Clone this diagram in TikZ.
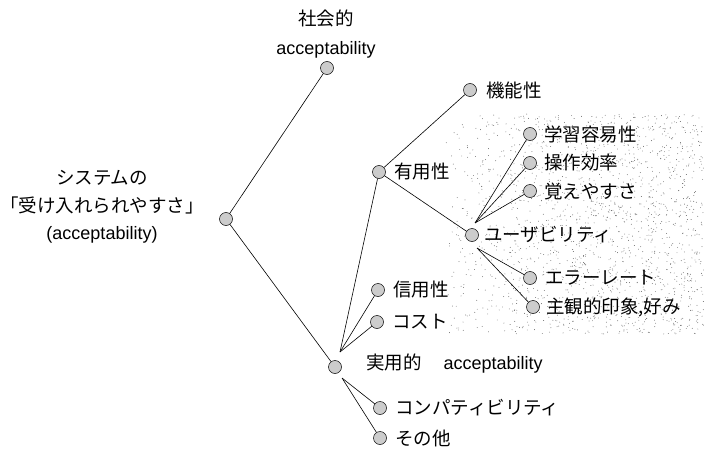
\documentclass[tikz,border=0pt]{standalone}
\usepackage{fontspec}
\setmainfont{Noto Sans CJK JP}
\newfontfamily\lat{Liberation Sans}
\begin{document}
\begin{tikzpicture}[x=1pt,y=-1pt,
  dotnode/.style={circle, draw, line width=0.5pt, fill=gray!40, minimum size=13pt, inner sep=0pt},
  lbl/.style={anchor=west, inner sep=0pt, font=\fontsize{18.5}{20}\selectfont},
  conn/.style={line width=0.6pt},
  speck/.style={fill=black!60}]
\useasboundingbox (0,0) rectangle (704,452);
% stippled background
\pgfmathsetseed{7}
\foreach \i in {1,...,1800}{
  \pgfmathsetmacro\rx{446+258*(rnd)^0.7}
  \pgfmathsetmacro\ry{114+220*rnd}
  \fill[speck] (\rx,\ry) circle (0.45pt);
}
% nodes
\node[dotnode] (soc) at (327,68) {};
\node[dotnode] (root) at (226,219) {};
\node[dotnode] (kino) at (470,90) {};
\node[dotnode] (yuyo) at (379,172) {};
\node[dotnode] (gaku) at (530,134) {};
\node[dotnode] (sosa) at (530,163) {};
\node[dotnode] (oboe) at (530,191) {};
\node[dotnode] (usa) at (472,235) {};
\node[dotnode] (err) at (530,278) {};
\node[dotnode] (shu) at (533,307) {};
\node[dotnode] (shin) at (378,290) {};
\node[dotnode] (cost) at (377,322) {};
\node[dotnode] (jitsu) at (335,367) {};
\node[dotnode] (compat) at (380,408) {};
\node[dotnode] (sono) at (380,438) {};
% fan points
\coordinate (u1) at (475,223);
\coordinate (u2) at (477,248);
\coordinate (j1) at (340,352);
\coordinate (j2) at (342,378);
% labels
\node[align=center, inner sep=0pt, font=\fontsize{18.5}{29}\selectfont] (socL) at (326,34) {社会的\\{\lat\fontsize{18}{29}\selectfont acceptability}};
\node[align=center, inner sep=0pt, font=\fontsize{18.5}{27.5}\selectfont] (rootL) at (102,207) {システムの\\「受け入れられやすさ」\\{\lat\fontsize{18}{27.5}\selectfont (acceptability)}};
\node[lbl] (kinoL) at (486,90) {機能性};
\node[lbl] (yuyoL) at (394,172) {有用性};
\node[lbl] (gakuL) at (544,134) {学習容易性};
\node[lbl] (sosaL) at (544,163) {操作効率};
\node[lbl] (oboeL) at (544,191) {覚えやすさ};
\node[lbl] (usaL) at (484,235) {ユーザビリティ};
\node[lbl] (errL) at (545,278) {エラーレート};
\node[lbl] (shuL) at (546,307) {主観的印象,好み};
\node[lbl] (shinL) at (393,290) {信用性};
\node[lbl] (costL) at (392,322) {コスト};
\node[lbl] (jitsuL) at (366,364) {実用的\hspace{22pt}{\lat\fontsize{18}{20}\selectfont acceptability}};
\node[lbl] (compatL) at (395,408) {コンパティビリティ};
\node[lbl] (sonoL) at (395,438) {その他};
% connectors
\draw[conn] (root) -- (soc);
\draw[conn] (root) -- (jitsu);
\draw[conn] (j1) -- (yuyo);
\draw[conn] (j1) -- (shin);
\draw[conn] (j1) -- (cost);
\draw[conn] (j2) -- (compat);
\draw[conn] (j2) -- (sono);
\draw[conn] (yuyo) -- (kino);
\draw[conn] (yuyo) -- (usa);
\draw[conn] (u1) -- (gaku);
\draw[conn] (u1) -- (sosa);
\draw[conn] (u1) -- (oboe);
\draw[conn] (u2) -- (err);
\draw[conn] (u2) -- (shu);
\end{tikzpicture}
\end{document}
